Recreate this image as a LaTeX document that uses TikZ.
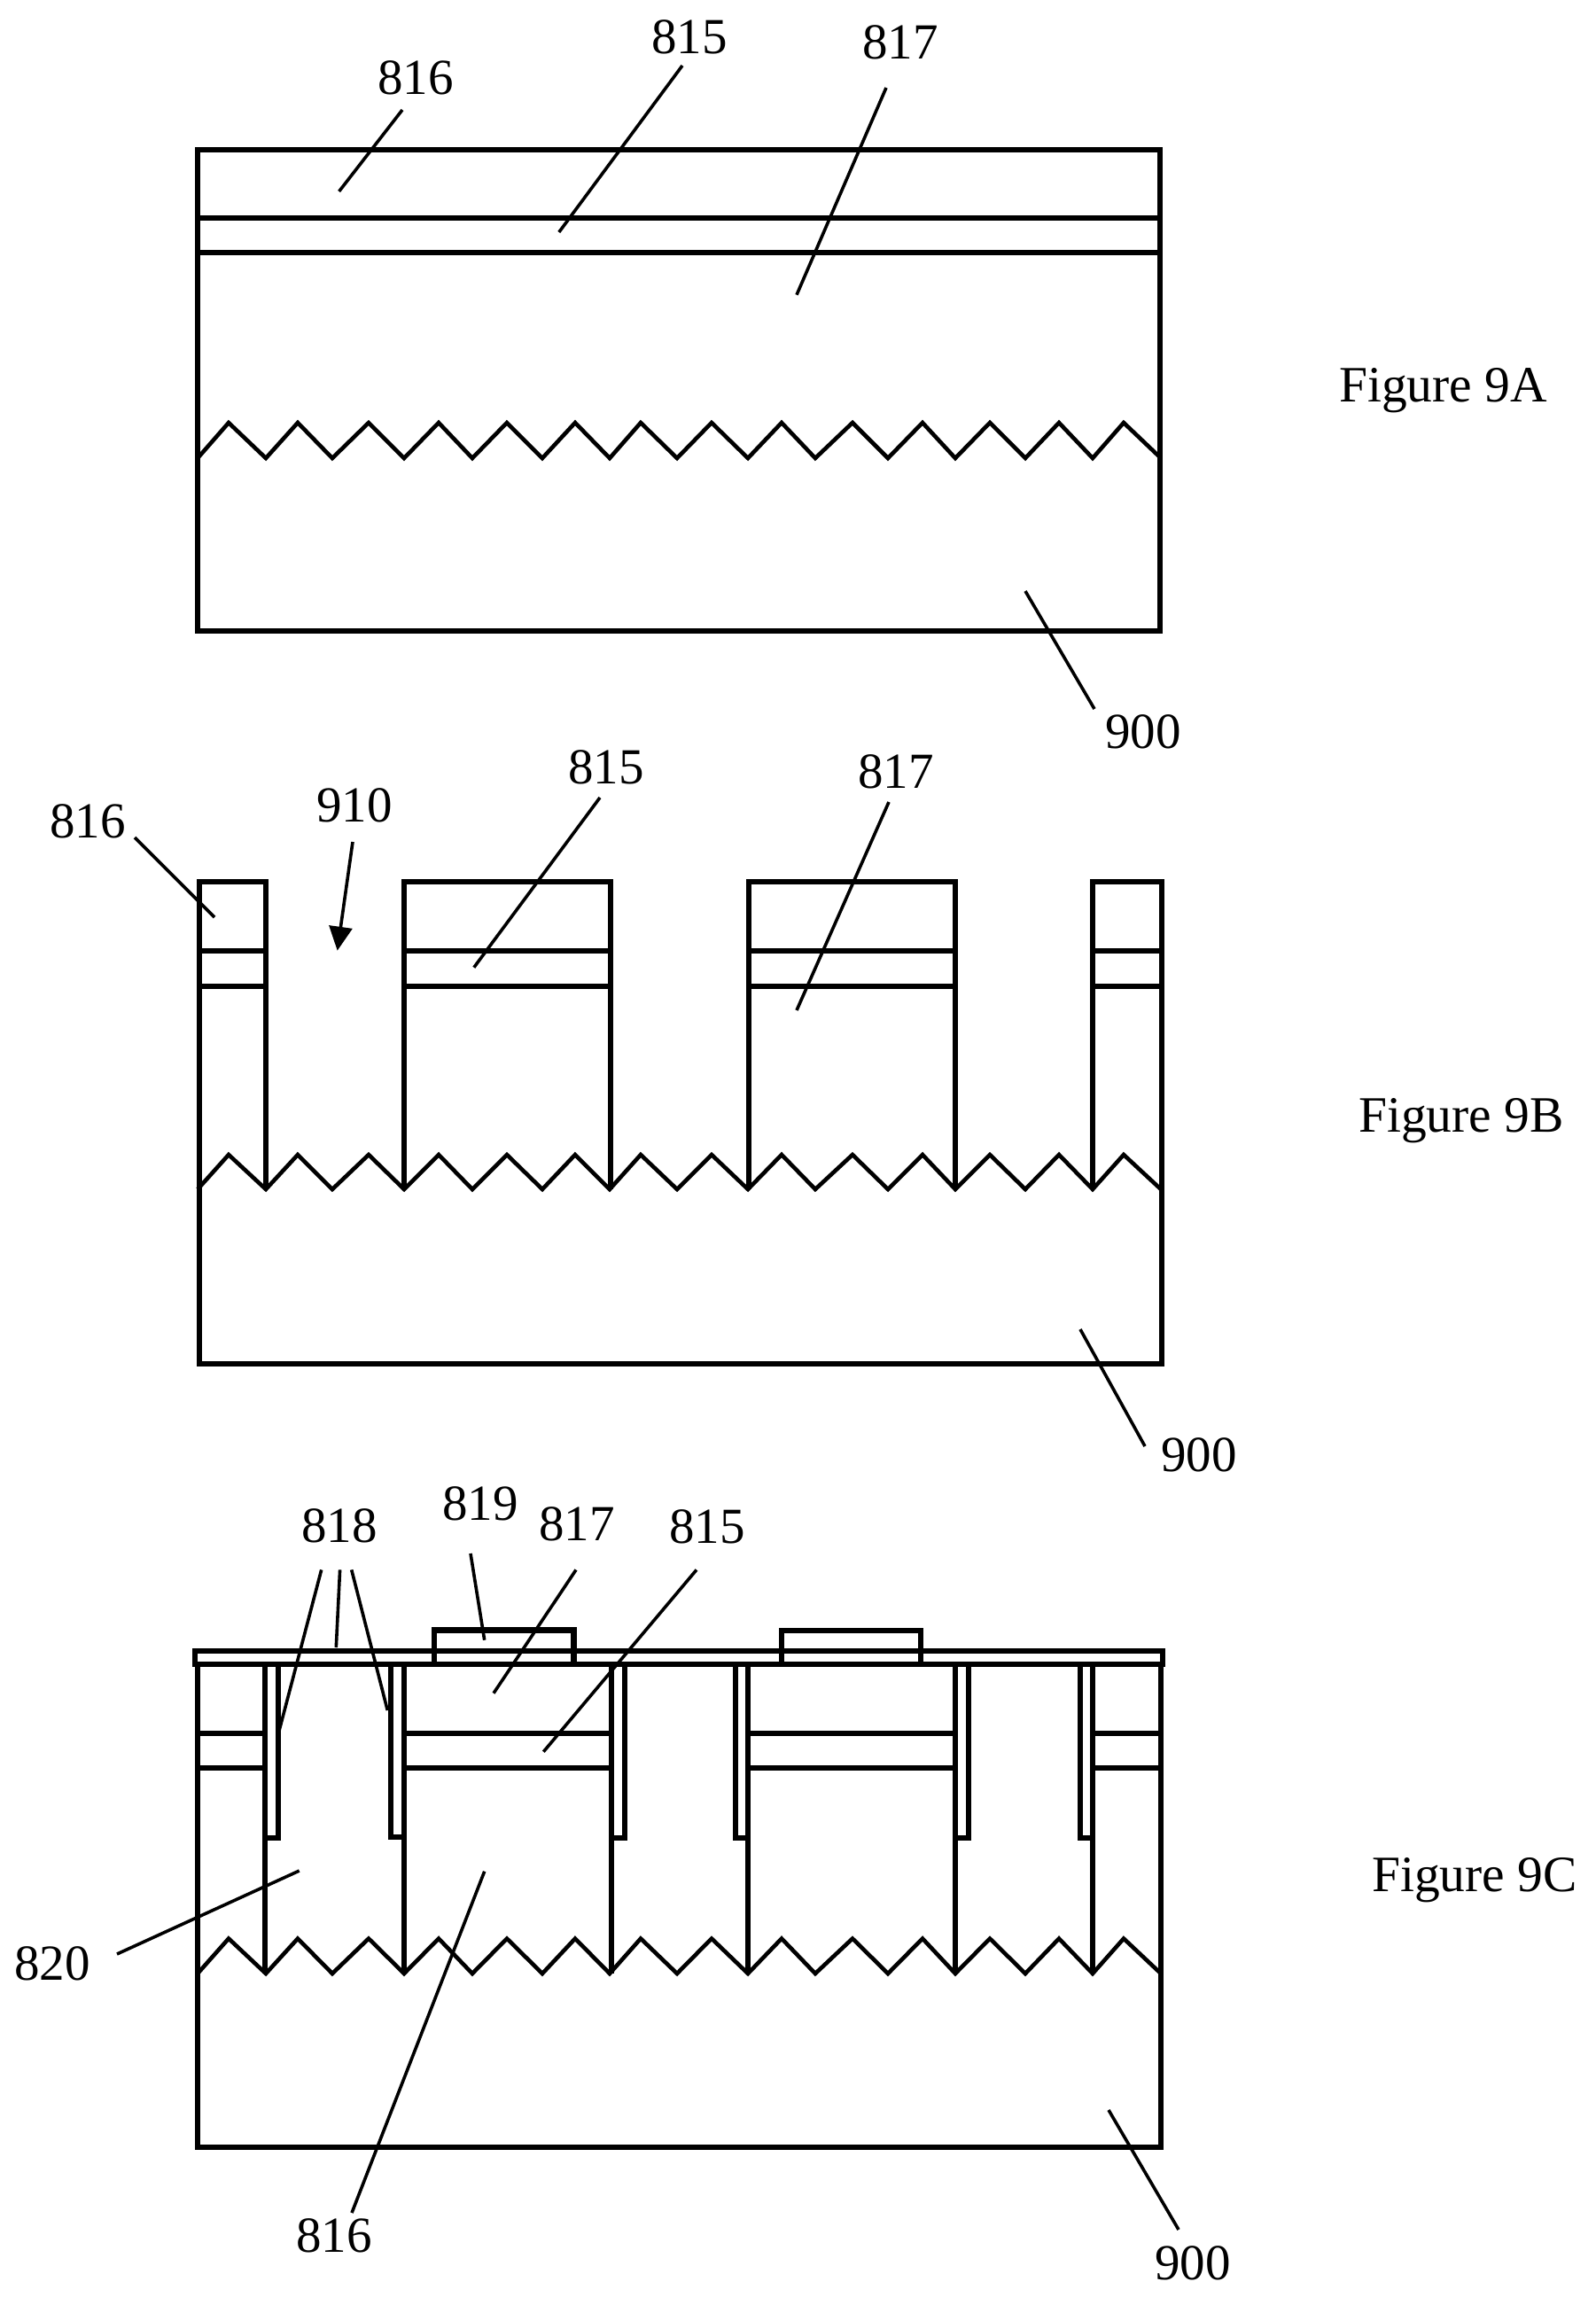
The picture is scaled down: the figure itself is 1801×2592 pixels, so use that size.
\documentclass[tikz,border=0pt]{standalone}
\usepackage{fontspec}
\setmainfont{Liberation Serif}
\usetikzlibrary{arrows.meta}
\tikzset{
  wall/.style={line width=6pt,line cap=butt,line join=miter},
  band/.style={line width=6.3pt,line join=miter},
  zig/.style={line width=4.6pt,line join=miter},
  leader/.style={line width=3.6pt},
  arrowleader/.style={line width=3.6pt,-{Triangle[length=27pt,width=26pt]},shorten >=0pt},
  lbl/.style={anchor=base,inner sep=0pt,font=\fontsize{57}{60}\selectfont},
  figlbl/.style={anchor=base west,inner sep=0pt,font=\fontsize{57.5}{60}\selectfont}
}
\def\zigpath#1#2{(223,#2)--(258,#1)--(300,#2)--(336,#1)--(375,#2)--(416,#1)--(456,#2)--(495,#1)--(533,#2)--(572,#1)--(612,#2)--(649,#1)--(688,#2)--(723,#1)--(764,#2)--(803,#1)--(844,#2)--(882,#1)--(920,#2)--(962,#1)--(1002,#2)--(1041,#1)--(1078,#2)--(1117,#1)--(1157,#2)--(1195,#1)--(1233,#2)--(1268,#1)--(1310,#2)}
\begin{document}
\begin{tikzpicture}[x=1pt,y=-1pt]
\useasboundingbox (0,0) rectangle (1801,2592);
\fill[white] (0,0) rectangle (1801,2592);

% ---------- Figure 9A ----------
\draw[wall] (223,169) rectangle (1309,712);
\draw[band] (223,246) -- (1309,246);
\draw[band] (223,285) -- (1309,285);
\draw[zig] \zigpath{477}{517};
\node[lbl] (a816) at (469,106) {816};
\node[lbl] (a815) at (778,60) {815};
\node[lbl] (a817) at (1016,66) {817};
\node[lbl] (a900) at (1290,844) {900};
\node[figlbl] (figa) at (1511,453) {Figure 9A};
\coordinate (a816s) at (454,124); \coordinate (a816e) at (382.6,216);
\coordinate (a815s) at (770,74);  \coordinate (a815e) at (630.8,262);
\coordinate (a817s) at (1000,99); \coordinate (a817e) at (899,332.7);
\coordinate (a900s) at (1235,800); \coordinate (a900e) at (1157,667);
\draw[leader] (a816s) -- (a816e);
\draw[leader] (a815s) -- (a815e);
\draw[leader] (a817s) -- (a817e);
\draw[leader] (a900s) -- (a900e);

% ---------- Figure 9B ----------
\draw[wall] (224.5,1342) -- (224.5,1539) -- (1310.5,1539) -- (1310.5,1342);
\draw[wall] (224.5,1342) -- (224.5,995) -- (300,995) -- (300,1342);
\draw[wall] (456,1342) -- (456,995) -- (689,995) -- (689,1342);
\draw[wall] (845,1342) -- (845,995) -- (1078,995) -- (1078,1342);
\draw[wall] (1233,1342) -- (1233,995) -- (1310.5,995) -- (1310.5,1342);
\foreach \yy in {1073,1112.7}{
  \draw[band] (224.5,\yy) -- (300,\yy);
  \draw[band] (456,\yy) -- (689,\yy);
  \draw[band] (845,\yy) -- (1078,\yy);
  \draw[band] (1233,\yy) -- (1310.5,\yy);
}
\draw[zig] \zigpath{1303}{1342};
\node[lbl] (b816) at (99,945) {816};
\node[lbl] (b910) at (400,927) {910};
\node[lbl] (b815) at (684,884) {815};
\node[lbl] (b817) at (1011,889) {817};
\node[lbl] (b900) at (1353,1660) {900};
\node[figlbl] (figb) at (1533,1277) {Figure 9B};
\coordinate (b816s) at (152,945);  \coordinate (b816e) at (242,1035);
\coordinate (b910s) at (398,950);  \coordinate (b910e) at (380.7,1072.7);
\coordinate (b815s) at (677,900);  \coordinate (b815e) at (534.8,1091.7);
\coordinate (b817s) at (1003,905); \coordinate (b817e) at (899,1140);
\coordinate (b900s) at (1292,1632); \coordinate (b900e) at (1219,1500);
\draw[leader] (b816s) -- (b816e);
\draw[arrowleader] (b910s) -- (b910e);
\draw[leader] (b815s) -- (b815e);
\draw[leader] (b817s) -- (b817e);
\draw[leader] (b900s) -- (b900e);

% ---------- Figure 9C ----------
\draw[wall] (223,2227) -- (223,2423) -- (1310,2423) -- (1310,2227);
\draw[wall] (223,1878) -- (223,2227);
\draw[wall] (1310,1878) -- (1310,2227);
% top thin layer
\draw[band] (220,1878) -- (220,1862.7) -- (1312,1862.7) -- (1312,1878) -- cycle;
% 819 blocks
\draw[band] (490,1878) -- (490,1839.5) -- (647.5,1839.5) -- (647.5,1878);
\draw[band] (882,1878) -- (882,1840) -- (1039,1840) -- (1039,1878);
% walls with sidewall liners
\draw[wall] (298.5,2227) -- (298.5,1878);
\draw[wall] (456,2227) -- (456,1878);
\draw[wall] (689.5,2227) -- (689.5,1878);
\draw[wall] (844,2227) -- (844,1878);
\draw[wall] (1078,2227) -- (1078,1878);
\draw[wall] (1233,2227) -- (1233,1878);
\draw[wall] (298.5,2073.5) -- (314,2073.5) -- (314,1878);
\draw[wall] (456,2073) -- (441,2073) -- (441,1878);
\draw[wall] (689.5,2074) -- (704.5,2074) -- (704.5,1878);
\draw[wall] (844,2074) -- (829.5,2074) -- (829.5,1878);
\draw[wall] (1078,2074) -- (1093,2074) -- (1093,1878);
\draw[wall] (1233,2073.5) -- (1219,2073.5) -- (1219,1878);
\foreach \yy in {1956,1995.3}{
  \draw[band] (223,\yy) -- (298.5,\yy);
  \draw[band] (456,\yy) -- (689.5,\yy);
  \draw[band] (844,\yy) -- (1078,\yy);
  \draw[band] (1233,\yy) -- (1310,\yy);
}
\draw[zig] \zigpath{2187.5}{2227};
\node[lbl] (c818) at (383,1740) {818};
\node[lbl] (c819) at (542,1715) {819};
\node[lbl] (c817) at (651,1738) {817};
\node[lbl] (c815) at (798,1741) {815};
\node[lbl] (c820) at (59,2234) {820};
\node[lbl] (c816) at (377,2541) {816};
\node[lbl] (c900) at (1346,2572) {900};
\node[figlbl] (figc) at (1548,2134) {Figure 9C};
\coordinate (c818as) at (362.7,1771.4); \coordinate (c818ae) at (315,1953);
\coordinate (c818bs) at (383.6,1771.4); \coordinate (c818be) at (379.3,1859);
\coordinate (c818cs) at (396.7,1771.4); \coordinate (c818ce) at (437.3,1930);
\coordinate (c819s) at (531,1753);  \coordinate (c819e) at (546.7,1850.7);
\coordinate (c817s) at (650,1771.4); \coordinate (c817e) at (557,1910.7);
\coordinate (c815s) at (786,1771.4); \coordinate (c815e) at (613.3,1976.7);
\coordinate (c820s) at (132,2205);  \coordinate (c820e) at (337.7,2111);
\coordinate (c816s) at (397,2497);  \coordinate (c816e) at (546.7,2111.7);
\coordinate (c900s) at (1330,2516); \coordinate (c900e) at (1251,2381);
\draw[leader] (c818as) -- (c818ae);
\draw[leader] (c818bs) -- (c818be);
\draw[leader] (c818cs) -- (c818ce);
\draw[leader] (c819s) -- (c819e);
\draw[leader] (c817s) -- (c817e);
\draw[leader] (c815s) -- (c815e);
\draw[leader] (c820s) -- (c820e);
\draw[leader] (c816s) -- (c816e);
\draw[leader] (c900s) -- (c900e);
\end{tikzpicture}
\end{document}
